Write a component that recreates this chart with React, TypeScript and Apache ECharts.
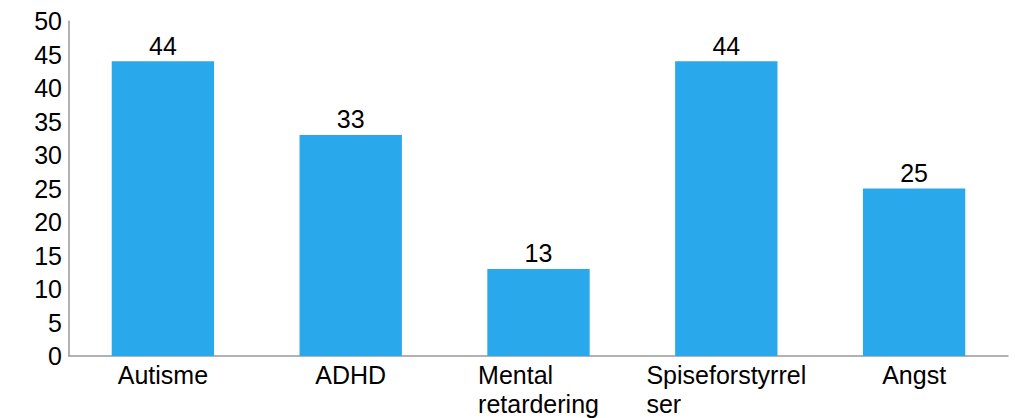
import React, { useEffect, useRef } from "react";
import * as echarts from "echarts";

const categoryLabels = ["Autisme", "ADHD", "Mental\nretardering", "Spiseforstyrrel\nser", "Angst"];
const values = [44, 33, 13, 44, 25];
const yMin = 0;
const yMax = 50;
const yInterval = 5;

export default function App() {
  const ref = useRef<HTMLDivElement>(null);
  useEffect(() => {
    if (!ref.current) return;
    const chart = echarts.init(ref.current, null, { renderer: "svg" });
    const font = "'Liberation Sans', Arial, sans-serif";
    chart.setOption({
      animation: false,
      backgroundColor: "#ffffff",
      grid: { left: 69, right: 7, top: 21, bottom: 58, containLabel: false },
      xAxis: {
        type: "category",
        data: categoryLabels,
        axisTick: { show: false },
        axisLine: { show: true, lineStyle: { color: "#999999", width: 1.5 } },
        axisLabel: {
          interval: 0,
          margin: 4,
          color: "#000000",
          fontFamily: font,
          fontSize: 25,
          lineHeight: 29,
          formatter: (v: string) =>
            v
              .split("\n")
              .map((s) => `{l|${s}}`)
              .join("\n"),
          rich: {
            l: { align: "left", fontFamily: font, fontSize: 25, lineHeight: 29, color: "#000000" },
          },
        },
      },
      yAxis: {
        type: "value",
        min: yMin,
        max: yMax,
        interval: yInterval,
        splitLine: { show: false },
        axisTick: { show: false },
        axisLine: { show: true, lineStyle: { color: "#999999", width: 1.5 } },
        axisLabel: {
          margin: 7,
          color: "#000000",
          fontFamily: font,
          fontSize: 25,
        },
      },
      series: [
        {
          type: "bar",
          data: values,
          barWidth: "54.5%",
          itemStyle: { color: "#29A8EC" },
          label: {
            show: true,
            position: "top",
            distance: 3,
            color: "#000000",
            fontFamily: font,
            fontSize: 25,
          },
        },
      ],
    });
    return () => chart.dispose();
  }, []);
  return (
    <div
      ref={ref}
      style={{ position: "fixed", left: 0, top: 0, width: 1015, height: 418, background: "#fff" }}
    />
  );
}
